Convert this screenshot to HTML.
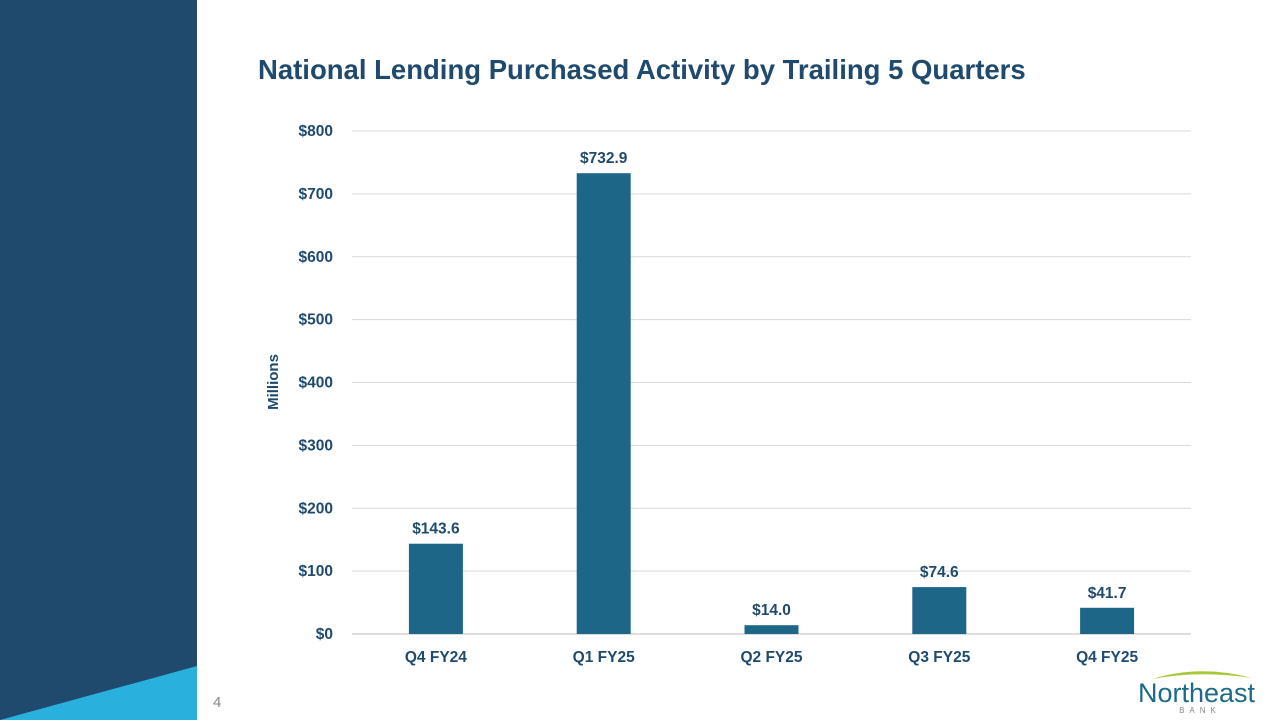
<!DOCTYPE html>
<html><head><meta charset="utf-8"><style>
body{margin:0;width:1280px;height:720px;overflow:hidden;background:#fff;font-family:"Liberation Sans",sans-serif}
</style></head><body>
<svg width="1280" height="720">
<rect x="0" y="0" width="197" height="720" fill="#1f4a6e"/>
<polygon points="0,720 197,666 197,720" fill="#29b0dc"/>
<text x="258" y="79" font-size="27.5" font-weight="bold" fill="#1f4a6e">National Lending Purchased Activity by Trailing 5 Quarters</text>
<text transform="translate(278,382) rotate(-90)" text-anchor="middle" font-size="15" font-weight="bold" fill="#1f4a6e">Millions</text>
<g id="chart"></g>
<text x="213" y="707" font-size="15" fill="#888">4</text>
<path d="M1152,679 Q1200,664 1252,678 Q1200,670 1152,679Z" fill="#a8c83c"/>
<text x="1138" y="702" font-size="27" fill="#1d6a8a">Northeast</text>
<text x="1200" y="713" font-size="8" fill="#888" letter-spacing="5" text-anchor="middle">BANK</text>
</svg>
<script>
const categories=["Q4 FY24","Q1 FY25","Q2 FY25","Q3 FY25","Q4 FY25"];
const values=[143.6,732.9,14.0,74.6,41.7];
const valueLabels=["$143.6","$732.9","$14.0","$74.6","$41.7"];
const ticks=[0,100,200,300,400,500,600,700,800];
const ns="http://www.w3.org/2000/svg";
const g=document.getElementById("chart");
const x0=352,x1=1191,yb=634,yt=131;
const y=v=>yb-(v/800)*(yb-yt);
const bw=(x1-x0)/categories.length;
const cx=i=>x0+bw*(i+0.5);
function mk(t,a){const e=document.createElementNS(ns,t);for(const k in a)e.setAttribute(k,a[k]);g.appendChild(e);return e;}
ticks.forEach(t=>{
 const l=mk("line",{x1:x0,x2:x1,y1:y(t),y2:y(t),stroke:t===0?"#bbb":"#d9d9d9","stroke-width":1});
 
 
 const tx=mk("text",{x:333,y:y(t)+5,"text-anchor":"end","font-size":15.5,"font-weight":"bold",fill:"#1f4a6e"});
 tx.textContent="$"+t;
 
 
});
values.forEach((v,i)=>{
 const r=mk("rect",{x:cx(i)-27,y:y(v),width:54,height:yb-y(v),fill:"#1d6688"});
 
 
 const lb=mk("text",{x:cx(i),y:y(v)-10,"text-anchor":"middle","font-size":15.5,"font-weight":"bold",fill:"#1f4a6e"});
 lb.textContent=valueLabels[i];
 
 
 const c=mk("text",{x:cx(i),y:662,"text-anchor":"middle","font-size":15.5,"font-weight":"bold",fill:"#1f4a6e"});
 c.textContent=categories[i];
 
 
});
</script>
</body></html>
